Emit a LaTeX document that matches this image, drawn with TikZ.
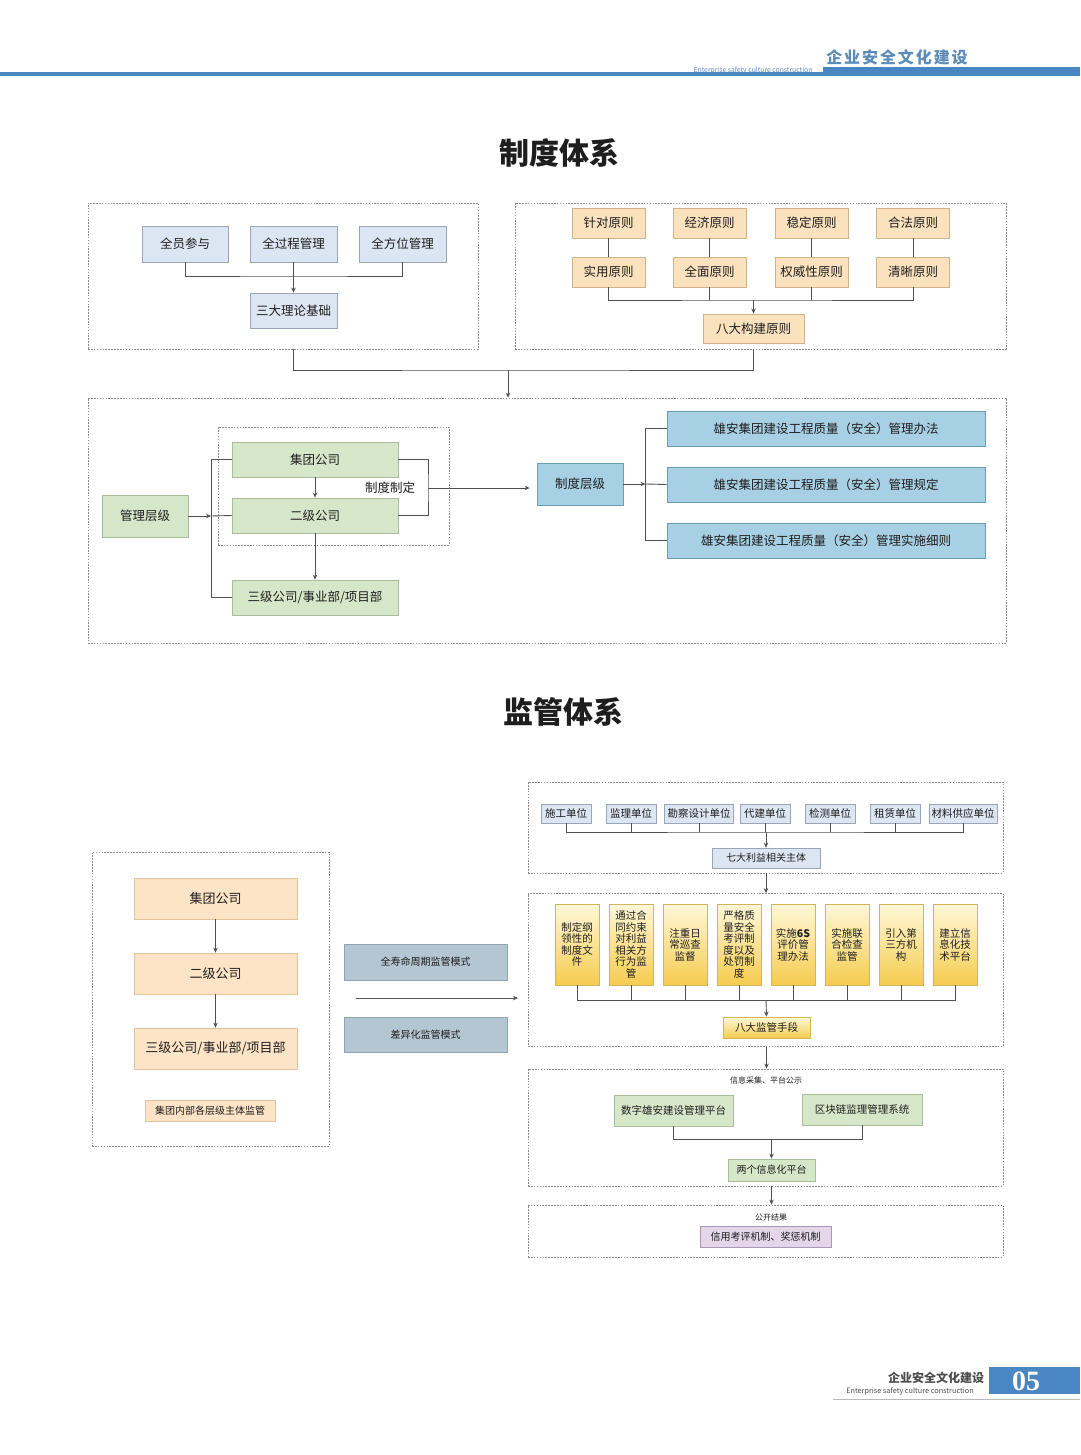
\documentclass[tikz,border=0pt]{standalone}
\usepackage{fontspec}
\setmainfont{Noto Sans CJK SC}
\newfontfamily\hdrfont{Noto Sans CJK SC}[LetterSpace=12]
\newfontfamily\numfont{Liberation Serif}
\usetikzlibrary{arrows.meta}
\definecolor{txt}{HTML}{1E1E1E}
\definecolor{lin}{HTML}{505050}
\definecolor{frm}{HTML}{8A8A8A}
\definecolor{hblue}{HTML}{4A86C2}
\definecolor{htext}{HTML}{5B8BB8}
\definecolor{bgbF}{HTML}{DCE6F2}\definecolor{bgbD}{HTML}{9AA6B8}
\definecolor{whtF}{HTML}{FAE2BE}\definecolor{whtD}{HTML}{D2B28A}
\definecolor{grnF}{HTML}{D5E6C9}\definecolor{grnD}{HTML}{A6BE9A}
\definecolor{cynF}{HTML}{A8D0E4}\definecolor{cynD}{HTML}{6D9CB9}
\definecolor{pchF}{HTML}{FDE4C6}\definecolor{pchD}{HTML}{E3C29C}
\definecolor{sltF}{HTML}{B5C6D3}\definecolor{sltD}{HTML}{8EA3B3}
\definecolor{lavF}{HTML}{E2D6E8}\definecolor{lavD}{HTML}{A998B5}
\definecolor{ylT}{HTML}{FFF8D8}\definecolor{ylB}{HTML}{F5CC50}\definecolor{ylD}{HTML}{D6B45C}
\newcommand\fsz[2]{\fontsize{#1}{#2}\selectfont}
\tikzset{
  base/.style={inner sep=0pt, align=center, text=txt, line width=0.8pt},
  bgb/.style={base, draw=bgbD, fill=bgbF, font=\fsz{12.5}{15}},
  wht/.style={base, draw=whtD, fill=whtF, font=\fsz{12.5}{15}},
  grn/.style={base, draw=grnD, fill=grnF, font=\fsz{12.5}{15}},
  cyn/.style={base, draw=cynD, fill=cynF, font=\fsz{12.5}{15}},
  pch/.style={base, draw=pchD, fill=pchF, font=\fsz{13}{15}},
  slt/.style={base, draw=sltD, fill=sltF, font=\fsz{10}{12}},
  lav/.style={base, draw=lavD, fill=lavF, font=\fsz{10}{12}},
  ylw/.style={base, draw=ylD, top color=ylT, bottom color=ylB, font=\fsz{10.5}{11.5}},
  frame/.style={draw=frm, line width=0.8pt, dash pattern=on 1.6pt off 1.3pt, inner sep=0pt},
  conn/.style={draw=lin, line width=0.9pt},
  arr/.style={conn, -{Stealth[length=5pt,width=4.5pt]}},
  lbl/.style={inner sep=0pt, text=txt},
}
\begin{document}
\begin{tikzpicture}[x=1pt,y=-1pt]
\useasboundingbox (0,0) rectangle (1080,1455);
\fill[white] (0,0) rectangle (1080,1455);
% header
\fill[hblue] (0,72.5) rectangle (1080,76.5);
\fill[hblue] (823,67.5) rectangle (1080,76.5);
\node[lbl, text=htext, font=\hdrfont\bfseries\fsz{16}{18}] (hdr) at (897,57) {企业安全文化建设};
\node[lbl, text=htext, font=\fsz{6.8}{8}] (hdren) at (753,70.5) {Enterprise safety culture construction};
% footer
\draw[gray!55, line width=1pt] (833,1399.5) -- (1080,1399.5);
\fill[hblue] (989,1367) rectangle (1080,1394);
\node[lbl, text=white, font=\numfont\bfseries\fsz{28}{30}] (pg) at (1026,1381) {05};
\node[lbl, text=black!70, font=\bfseries\fsz{12}{14}] (ftr) at (936,1378) {企业安全文化建设};
\node[lbl, text=black!70, font=\fsz{7.3}{9}] (ftren) at (910,1391) {Enterprise safety culture construction};

% ===== 制度体系 =====
\node[lbl, font=\bfseries\fsz{30}{34}] (t1) at (559,153) {制度体系};
\node[frame, minimum width=390, minimum height=146] (fa) at (283,276) {};
\node[frame, minimum width=491, minimum height=146] (fb) at (760.5,276) {};
\node[frame, minimum width=918, minimum height=245] (fc) at (547,520.5) {};
\node[frame, minimum width=231, minimum height=118] (fi) at (333.5,486) {};

\node[bgb, minimum width=86, minimum height=36] (qy) at (185,244) {全员参与};
\node[bgb, minimum width=87, minimum height=36] (qg) at (293.5,244) {全过程管理};
\node[bgb, minimum width=87, minimum height=36] (qf) at (402.5,244) {全方位管理};
\node[bgb, minimum width=87, minimum height=35] (san) at (293.5,310.5) {三大理论基础};
\coordinate (m1) at (293.5,276);
\draw[conn] (qy.south) |- (m1) -| (qf.south);
\draw[arr] (qg.south) -- (san.north);

\foreach \n/\x/\a/\b in {zd/608.5/针对原则/实用原则, jj/709.5/经济原则/全面原则, wd/811.5/稳定原则/权威性原则, hf/913/合法原则/清晰原则}{
  \node[wht, minimum width=73, minimum height=30] (\n1) at (\x,223) {\a};
  \node[wht, minimum width=73, minimum height=30] (\n2) at (\x,272) {\b};
  \draw[conn] (\n1.south) -- (\n2.north);
}
\node[wht, minimum width=101, minimum height=29] (bd) at (753.5,328.5) {八大构建原则};
\coordinate (m2) at (753.5,300);
\draw[conn] (zd2.south) |- (m2) -| (hf2.south);
\draw[conn] (jj2.south) -- (jj2.south |- m2);
\draw[conn] (wd2.south) -- (wd2.south |- m2);
\draw[arr] (m2) -- (bd.north);

\coordinate (j1) at (508,370);
\draw[conn] (san.south |- fa.south) |- (j1) -| (bd.south |- fb.south);
\draw[arr] (j1) -- (j1 |- fc.north);

\node[grn, minimum width=166, minimum height=35] (jt) at (315,459.5) {集团公司};
\node[grn, minimum width=166, minimum height=35] (ej) at (315,515.5) {二级公司};
\node[grn, minimum width=166, minimum height=35] (sj) at (315,597.5) {三级公司/事业部/项目部};
\node[grn, minimum width=86, minimum height=42] (gl) at (145,516) {管理层级};
\coordinate (v1) at (211,516);
\draw[arr] (gl.east) -- (v1);
\draw[conn] (jt.west) -- (jt.west -| v1) -- (sj.west -| v1) -- (sj.west);
\draw[conn] (v1) -- (ej.west);
\draw[arr] (jt.south) -- (ej.north);
\draw[arr] (ej.south) -- (sj.north);
\coordinate (v2) at (428,488);
\draw[conn] (jt.east) -| (v2) |- (ej.east);
\node[lbl, font=\fsz{12.5}{15}] (zdzd) at (390,488) {制度制定};
\node[cyn, minimum width=86, minimum height=42] (zl) at (580,484) {制度层级};
\draw[arr, shorten >=7pt] (v2) -- (v2 -| zl.west);
\node[cyn, minimum width=318, minimum height=35] (b1) at (826,428.5) {雄安集团建设工程质量（安全）管理办法};
\node[cyn, minimum width=318, minimum height=35] (b2) at (826,484.5) {雄安集团建设工程质量（安全）管理规定};
\node[cyn, minimum width=318, minimum height=35] (b3) at (826,540.5) {雄安集团建设工程质量（安全）管理实施细则};
\coordinate (v3) at (645.5,484);
\draw[arr] (zl.east) -- (v3);
\draw[conn] (b1.west) -- (b1.west -| v3) -- (b3.west -| v3) -- (b3.west);
\draw[conn] (v3) -- (b2.west);

% ===== 监管体系 =====
\node[lbl, font=\bfseries\fsz{30}{34}] (t2) at (563,712) {监管体系};
\node[frame, minimum width=237, minimum height=294] (fl) at (210.5,999) {};
\node[pch, minimum width=163, minimum height=41] (p1) at (215.5,898.5) {集团公司};
\node[pch, minimum width=163, minimum height=41] (p2) at (215.5,973.5) {二级公司};
\node[pch, minimum width=163, minimum height=41] (p3) at (215.5,1048.5) {三级公司/事业部/项目部};
\node[pch, minimum width=130, minimum height=21, font=\fsz{10}{12}] (p4) at (210,1110.5) {集团内部各层级主体监管};
\draw[arr] (p1.south) -- (p2.north);
\draw[arr] (p2.south) -- (p3.north);

\node[slt, minimum width=163, minimum height=36] (s1) at (425.5,962) {全寿命周期监管模式};
\node[slt, minimum width=163, minimum height=35] (s2) at (425.5,1034.5) {差异化监管模式};
\coordinate (h1) at (356,998);
\coordinate (h2) at (518,998);
\draw[arr] (h1) -- (h2);

\node[frame, minimum width=475, minimum height=91] (fd) at (765.5,827.5) {};
\node[frame, minimum width=475, minimum height=153] (fe) at (765.5,970) {};
\node[frame, minimum width=475, minimum height=117] (ff) at (765.5,1127.5) {};
\node[frame, minimum width=475, minimum height=52] (fg) at (765.5,1231) {};

\foreach \n/\x/\w/\t in {e1/566/50/施工单位, e2/631/50/监理单位, e3/699/69/勘察设计单位, e4/765/50/代建单位, e5/830/50/检测单位, e6/895/50/租赁单位, e7/963/68/材料供应单位}{
  \node[bgb, minimum width=\w, minimum height=19, font=\fsz{10.5}{12}] (\n) at (\x,813.5) {\t};
}
\node[bgb, minimum width=108, minimum height=20, font=\fsz{10}{12}] (qd) at (766,858) {七大利益相关主体};
\coordinate (m3) at (766,832);
\draw[conn] (e1.south) |- (m3) -| (e7.south);
\foreach \n in {e2,e3,e4,e5,e6}{\draw[conn] (\n.south) -- (\n.south |- m3);}
\draw[arr] (m3) -- (qd.north);
\draw[arr] (qd.south |- fd.south) -- (qd.south |- fe.north);

\foreach \n/\i/\t in {y1/0/{制定纲\\领性的\\制度文\\件}, y2/1/{通过合\\同约束\\对利益\\相关方\\行为监\\管}, y3/2/{注重日\\常巡查\\监督}, y4/3/{严格质\\量安全\\考评制\\度以及\\处罚制\\度}, y5/4/{实施\textbf{6S}\\评价管\\理办法}, y6/5/{实施联\\合检查\\监管}, y7/6/{引入第\\三方机\\构}, y8/7/{建立信\\息化技\\术平台}}{
  \node[ylw, minimum width=44, minimum height=81] (\n) at (577+54*\i,944.5) {\t};
}
\node[ylw, minimum width=87, minimum height=21, font=\fsz{10.5}{12}] (bj) at (766.5,1027.5) {八大监管手段};
\coordinate (m4) at (766,1000);
\draw[conn] (y1.south) |- (m4) -| (y8.south);
\foreach \n in {y2,y3,y4,y5,y6,y7}{\draw[conn] (\n.south) -- (\n.south |- m4);}
\draw[arr] (m4) -- (bj.north);
\draw[arr] (bj.south |- fe.south) -- (bj.south |- ff.north);

\node[lbl, font=\fsz{8}{10}] (xx) at (766,1080) {信息采集、平台公示};
\node[grn, minimum width=119, minimum height=31, font=\fsz{10.5}{12}] (g1) at (673.5,1110.5) {数字雄安建设管理平台};
\node[grn, minimum width=120, minimum height=31, font=\fsz{10.5}{12}] (g2) at (862,1109.5) {区块链监理管理系统};
\node[grn, minimum width=87, minimum height=22, font=\fsz{10}{12}] (lg) at (771.5,1170) {两个信息化平台};
\coordinate (m5) at (771.5,1139);
\draw[conn] (g1.south) |- (m5) -| (g2.south);
\draw[arr] (m5) -- (lg.north);
\draw[arr] (lg.south |- ff.south) -- (lg.south |- fg.north);

\node[lbl, font=\fsz{8}{10}] (gk) at (771,1217) {公开结果};
\node[lav, minimum width=131, minimum height=21] (xy) at (765.5,1236.5) {信用考评机制、奖惩机制};
\end{tikzpicture}
\end{document}
